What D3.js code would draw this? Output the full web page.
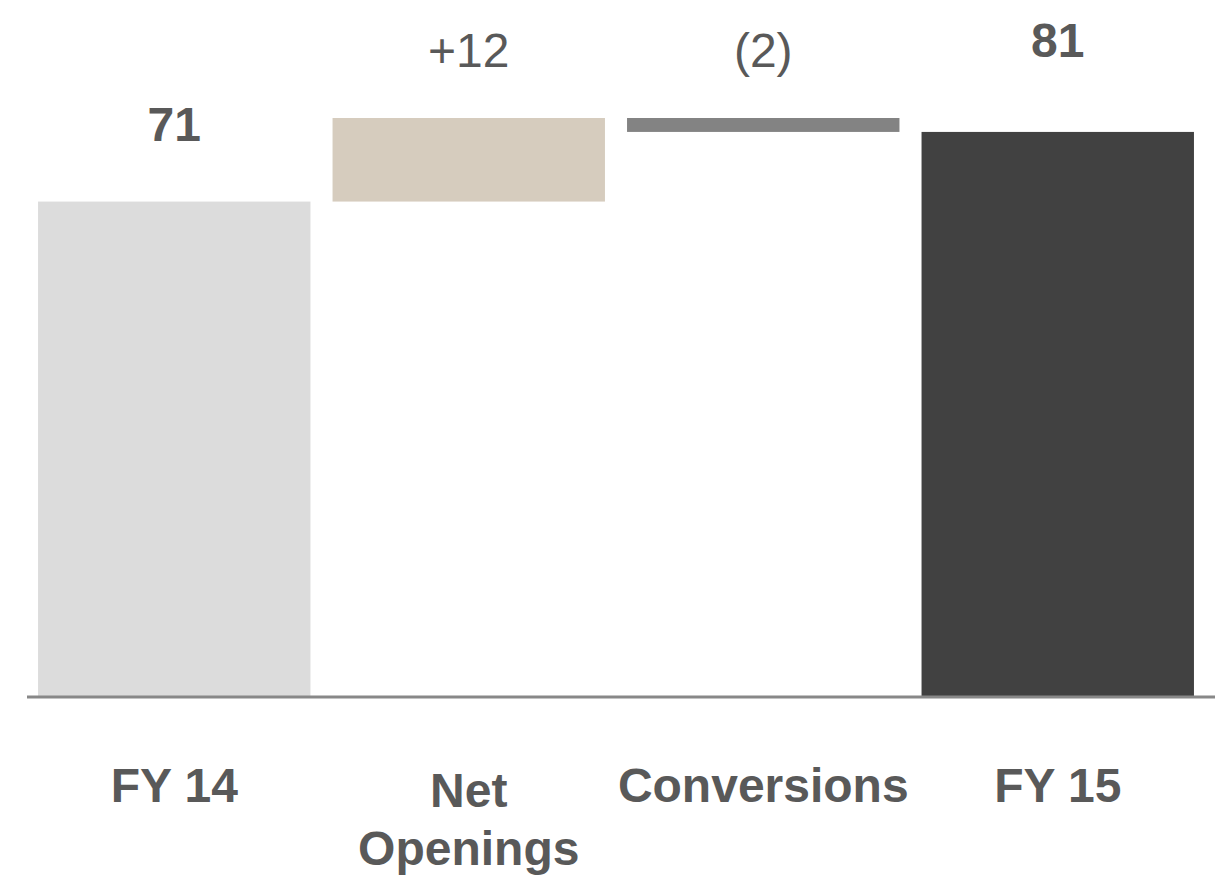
<!DOCTYPE html>
<html>
<head>
<meta charset="utf-8">
<script src="https://cdn.jsdelivr.net/npm/d3@7"></script>
<style>
  html, body { margin: 0; padding: 0; background: #ffffff; }
  svg { display: block; }
  text { font-family: "Liberation Sans", Arial, sans-serif; fill: #595959; }
</style>
</head>
<body>
<svg id="chart" width="1215" height="876"></svg>
<script>
// Waterfall: opening total, movements, closing total
const categories = ["FY 14", "Net\nOpenings", "Conversions", "FY 15"];
const values = [71, 12, -2, 81];
const kinds = ["total", "delta", "delta", "total"];
const valueLabels = ["71", "+12", "(2)", "81"];
const barColors = ["#dcdcdc", "#d6ccbe", "#838383", "#414141"];

const width = 1215, height = 876;
const baseY = 696;

const svg = d3.select("#chart");

// Running start/end for each step, plus the highest level reached so far
let running = 0, peak = 0;
const steps = categories.map((c, i) => {
  let start, end;
  if (kinds[i] === "total") { start = 0; end = values[i]; running = values[i]; }
  else { start = running; end = running + values[i]; running = end; }
  peak = Math.max(peak, start, end);
  return { cat: c, start, end, peak, label: valueLabels[i], kind: kinds[i], color: barColors[i] };
});

const x = d3.scaleBand()
  .domain(categories)
  .range([27, 1205])
  .paddingInner(0.075)
  .paddingOuter(0.0375);

const y = d3.scaleLinear()
  .domain([0, 83])
  .range([baseY, 118]);

// Bars
svg.append("g").selectAll("rect")
  .data(steps)
  .join("rect")
  .attr("x", d => x(d.cat))
  .attr("width", x.bandwidth())
  .attr("y", d => y(Math.max(d.start, d.end)))
  .attr("height", d => Math.abs(y(d.start) - y(d.end)))
  .attr("fill", d => d.color);

// Baseline
svg.append("line")
  .attr("x1", 27).attr("x2", width)
  .attr("y1", y(0) + 1).attr("y2", y(0) + 1)
  .attr("stroke", "#888888")
  .attr("stroke-width", 3);

// Value labels: totals sit above the highest level so far, movements above their bar
svg.append("g").selectAll("text")
  .data(steps)
  .join("text")
  .attr("x", d => x(d.cat) + x.bandwidth() / 2)
  .attr("y", d => d.kind === "total" ? y(d.peak) - 61 : y(Math.max(d.start, d.end)) - 51)
  .attr("text-anchor", "middle")
  .attr("font-size", 48)
  .attr("font-weight", d => d.kind === "total" ? "bold" : "normal")
  .text(d => d.label);

// Category labels
const catG = svg.append("g");
categories.forEach(c => {
  const lines = c.split("\n");
  const t = catG.append("text")
    .attr("x", x(c) + x.bandwidth() / 2)
    .attr("y", lines.length > 1 ? 807 : 802)
    .attr("text-anchor", "middle")
    .attr("font-size", 48)
    .attr("font-weight", "bold");
  lines.forEach((ln, j) => {
    t.append("tspan")
      .attr("x", x(c) + x.bandwidth() / 2)
      .attr("dy", j === 0 ? 0 : 58)
      .text(ln);
  });
});
</script>
</body>
</html>
